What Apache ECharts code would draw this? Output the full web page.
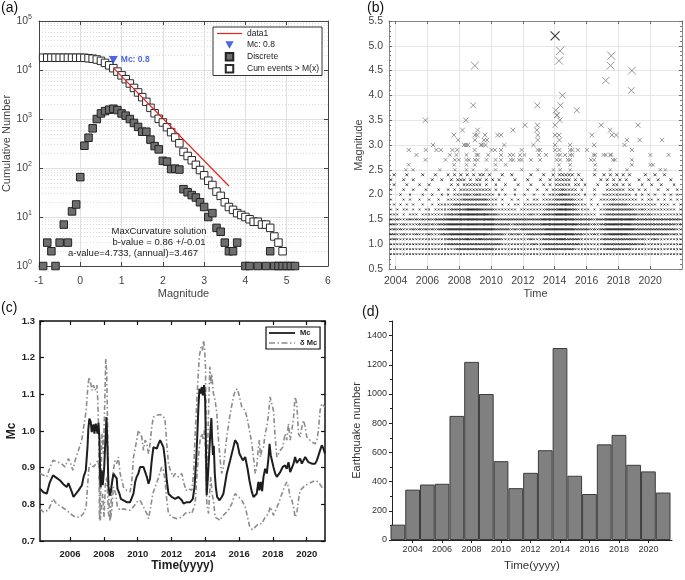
<!DOCTYPE html>
<html><head><meta charset="utf-8">
<script src="https://cdn.jsdelivr.net/npm/echarts@6/dist/echarts.min.js"></script>
<style>html,body{margin:0;padding:0;background:#fff;}#c{width:685px;height:580px;}</style>
</head><body><div id="c"></div>
<script>
// ================= Panel (a): frequency-magnitude =================
const discMag = [-0.9,-0.8,-0.7,-0.6,-0.5,-0.4,-0.3,-0.2,-0.1,0.0,0.1,0.2,0.3,0.4,0.5,0.6,0.7,0.8,0.9,1.0,1.1,1.2,1.3,1.4,1.5,1.6,1.7,1.8,1.9,2.0,2.1,2.2,2.3,2.4,2.5,2.6,2.7,2.8,2.9,3.0,3.1,3.2,3.3,3.4,3.5,3.6,3.7,3.8,4.0,4.1,4.3,4.5,4.6,4.7,4.8,4.9,5.0,5.1,5.2];
const discCount = [1,3,2,1,3,7,3,13,18,65,285,415,645,1000,1300,1450,1550,1620,1520,1300,1170,1000,830,690,550,550,380,280,240,140,135,95,97,93,37,32,28,25,20,16,10,12,6,5,3,2,2,3,1,1,1,1,2,1,1,1,1,1,1];
const cumMag = [-0.9,-0.8,-0.7,-0.6,-0.5,-0.4,-0.3,-0.2,-0.1,0.0,0.1,0.2,0.3,0.4,0.5,0.6,0.7,0.8,0.9,1.0,1.1,1.2,1.3,1.4,1.5,1.6,1.7,1.8,1.9,2.0,2.1,2.2,2.3,2.4,2.5,2.6,2.7,2.8,2.9,3.0,3.1,3.2,3.3,3.4,3.5,3.6,3.7,3.8,3.9,4.0,4.1,4.2,4.3,4.4,4.5,4.6,4.7,4.8,4.9];
const cumCount = [17830,17830,17825,17825,17820,17815,17810,17800,17790,17770,17710,17420,17000,16360,15360,13960,12460,10890,9270,7770,6480,5310,4310,3480,2790,2240,1690,1310,1010,850,680,540,420,320,213,176,144,116,91,71,55,45,33,27,20,16,14,12,11,10,9,8,8,7,7,6,4,3,2];
const fitMag = [0.8, 3.6];
const fitCount = [11090, 43];
const mcPoint = [0.8, 16000];
const aNotes = ['MaxCurvature solution', 'b-value = 0.86 +/-0.01', 'a-value=4.733, (annual)=3.467'];

// ================= Panel (b): magnitude vs time =================
const rowStart = 2003.6, rowBin = 0.2;   // bins of 0.2 yr; digit = visual count of events in bin
const rowMags = [0.8,0.9,1.0,1.1,1.2,1.3,1.4,1.5,1.6,1.7,1.8,1.9,2.0,2.1,2.2,2.3,2.4];
const rowDensity = [
 "11 11111 11111 11111 11111 11111 11111 11111 11111 11111 11111 11111 11111 11111 11111 11111 11111 11111 11111",
 "11 11111 11111 11111 11112 22222 22222 21111 11111 11111 11222 22222 21111 11111 12222 22221 11111 11111 11111",
 "11 11111 11111 11111 12222 22222 22222 22211 11111 11121 12222 22222 22211 11111 22222 22222 21211 11111 11111",
 "12 11111 11111 11111 12222 22322 23222 22211 11111 11211 12222 23322 22211 11111 22222 22222 21211 12111 11111",
 "22 11211 12111 21112 22333 33333 33332 22221 12121 12222 22333 33333 32221 11211 22333 33322 22222 22222 21211",
 "12 12111 21212 12122 23333 33333 33333 32222 21212 22222 22333 33333 32222 21212 23333 33333 22222 22222 22211",
 "22 11211 11212 12122 23333 33333 33333 32222 21222 22222 23333 33333 33222 21212 23333 33332 22222 22222 22212",
 "21 21112 12121 21222 23333 33333 33333 32222 22222 22222 23333 33333 32222 22122 23333 33333 22222 22222 22221",
 "11 10101 11011 11111 12222 33333 33332 22111 11111 11211 12222 33333 22211 11101 12222 22222 21212 11111 11111",
 "10 10110 10101 10111 11222 22333 33222 21111 11101 11111 11222 23333 22111 10101 12222 22222 11211 11111 11101",
 "01 01010 10010 01011 11122 22222 22221 11010 10110 11111 11122 22333 22111 01010 11222 22211 11111 11011 10101",
 "10 00101 00100 10010 01111 12222 22221 11010 01010 01011 01111 22222 21110 01001 11121 11111 10101 10101 01010",
 "00 01001 00010 01001 01011 11211 21111 10101 00100 10010 01011 12221 11101 00100 11111 11110 10101 01001 01010",
 "10 00100 10001 00010 01010 11111 11111 01010 00100 01001 00101 11211 11010 00100 01111 11011 01010 00100 10010",
 "01 00010 00100 10000 00101 01111 11010 01001 00010 00100 01010 11111 01101 00010 01011 01010 00100 10010 00100",
 "10 00100 10000 01001 00101 11010 11010 10100 00100 01000 10010 11111 01010 00001 01010 10100 01001 00100 01000",
 "01 00010 00010 00100 01010 10101 01101 00010 01000 00100 01001 01111 10100 00100 10101 01010 00010 01001 00000"
];
const evYear = [2014.34,2014.27,2008.98,2017.55,2017.51,2017.21,2018.85,2018.81,2014.48,
 2008.87,2012.91,2014.36,2014.06,2015.39,2014.13,2014.15,2005.87,2008.41,2014.32,
 2012.13,2012.91,2014.02,2016.92,2019.23,2008.20,2009.15,2011.37,2012.87,2017.49,
 2007.66,2008.98,2009.13,2009.61,2010.41,2010.62,2012.93,2014.02,2014.27,2016.33,2017.59,2017.87,
 2007.93,2008.98,2009.55,2009.74,2012.93,2014.29,2018.54,2019.34,2020.74,
 2006.35,2008.29,2008.41,2008.54,2009.36,2009.46,2009.65,2010.83,2012.66,2014.02,2014.97,2016.48,2018.39,
 2004.82,2005.89,2006.56,2006.84,2007.57,2007.87,2008.96,2010.03,2010.24,2010.62,2011.92,2012.93,2013.08,2014.02,2014.29,2014.97,2015.11,2015.45,2016.02,2018.85,
 2005.30,2007.40,2007.82,2008.45,2009.08,2009.19,2009.82,2010.62,2011.18,2011.39,2011.82,2012.09,2013.01,2013.45,2014.17,2014.34,2014.65,2014.97,2015.11,2016.44,2016.54,2017.07,2017.21,2017.49,2017.55,2020.01,2021.16,
 2005.87,2007.13,2007.72,2007.97,2008.45,2008.60,2008.98,2009.15,2009.71,2010.28,2010.62,2011.23,2011.39,2011.77,2011.92,2012.51,2013.08,2014.13,2014.34,2014.82,2014.97,2016.27,2016.48,2017.66,2017.80,2018.85,
 2004.82,2007.68,2008.45,2008.98,2010.28,2010.91,2014.27,2014.97,2016.54,2018.85,2020.01,2020.18,
 2004.63,2005.09,2006.77,2007.72,2008.45,2008.87,2009.71,2010.28,2011.92,2012.93,2013.92,2014.34,2014.97,2016.54,2017.49,2018.54,2020.64,2020.95];
const evMag = [4.9,4.7,4.6,4.8,4.6,4.3,4.5,4.1,4.0,
 3.8,3.8,3.8,3.7,3.7,3.6,3.6,3.5,3.5,3.5,
 3.4,3.4,3.4,3.4,3.4,3.3,3.3,3.3,3.3,3.3,
 3.2,3.2,3.2,3.2,3.2,3.2,3.2,3.2,3.2,3.2,3.2,3.2,
 3.1,3.1,3.1,3.1,3.1,3.1,3.1,3.1,3.1,
 3.0,3.0,3.0,3.0,3.0,3.0,3.0,3.0,3.0,3.0,3.0,3.0,3.0,
 2.9,2.9,2.9,2.9,2.9,2.9,2.9,2.9,2.9,2.9,2.9,2.9,2.9,2.9,2.9,2.9,2.9,2.9,2.9,2.9,
 2.8,2.8,2.8,2.8,2.8,2.8,2.8,2.8,2.8,2.8,2.8,2.8,2.8,2.8,2.8,2.8,2.8,2.8,2.8,2.8,2.8,2.8,2.8,2.8,2.8,2.8,2.8,
 2.7,2.7,2.7,2.7,2.7,2.7,2.7,2.7,2.7,2.7,2.7,2.7,2.7,2.7,2.7,2.7,2.7,2.7,2.7,2.7,2.7,2.7,2.7,2.7,2.7,2.7,
 2.6,2.6,2.6,2.6,2.6,2.6,2.6,2.6,2.6,2.6,2.6,2.6,
 2.5,2.5,2.5,2.5,2.5,2.5,2.5,2.5,2.5,2.5,2.5,2.5,2.5,2.5,2.5,2.5,2.5,2.5];
const maxEvent = [2014.02, 5.2];

// ================= Panel (c): Mc through time =================
const mcT = [2004.22,2004.42,2004.62,2004.80,2004.99,2005.20,2005.41,2005.60,2005.80,2005.90,2006.10,2006.20,2006.50,2006.70,2006.80,2006.93,2007.03,2007.08,2007.14,2007.22,2007.28,2007.38,2007.44,2007.52,2007.62,2007.68,2007.74,2007.78,2007.81,2007.87,2007.93,2008.01,2008.07,2008.13,2008.15,2008.21,2008.27,2008.37,2008.47,2008.56,2008.66,2008.76,2008.80,2008.92,2009.00,2009.16,2009.35,2009.55,2009.65,2009.75,2009.85,2009.94,2010.04,2010.14,2010.24,2010.34,2010.44,2010.54,2010.64,2010.73,2010.83,2010.93,2011.03,2011.13,2011.23,2011.33,2011.42,2011.52,2011.62,2011.72,2011.82,2012.02,2012.21,2012.41,2012.61,2012.71,2012.90,2013.10,2013.26,2013.36,2013.46,2013.53,2013.59,2013.65,2013.73,2013.79,2013.85,2013.93,2013.99,2014.03,2014.08,2014.14,2014.22,2014.30,2014.36,2014.40,2014.45,2014.50,2014.56,2014.62,2014.70,2014.84,2014.97,2015.07,2015.27,2015.47,2015.66,2015.76,2015.90,2016.02,2016.10,2016.22,2016.36,2016.50,2016.61,2016.75,2016.85,2016.95,2017.04,2017.14,2017.20,2017.28,2017.36,2017.44,2017.54,2017.64,2017.74,2017.80,2017.87,2017.93,2018.03,2018.13,2018.23,2018.43,2018.58,2018.72,2018.82,2018.92,2019.02,2019.12,2019.22,2019.31,2019.41,2019.51,2019.61,2019.71,2019.81,2019.91,2020.00,2020.10,2020.30,2020.50,2020.60,2020.69,2020.79,2020.89,2020.99,2021.08];
const mcV = [0.843,0.833,0.829,0.860,0.879,0.872,0.865,0.855,0.847,0.858,0.834,0.820,0.838,0.852,0.875,0.893,0.956,1.006,1.034,1.025,0.997,1.018,0.993,1.020,0.993,1.022,0.975,0.875,0.847,0.893,0.852,0.893,0.956,1.011,1.038,0.956,0.847,0.824,0.856,0.884,0.884,0.870,0.843,0.829,0.815,0.811,0.806,0.806,0.811,0.829,0.861,0.875,0.884,0.902,0.897,0.902,0.897,0.875,0.856,0.870,0.920,0.956,0.961,0.952,0.965,0.975,0.970,0.956,0.920,0.865,0.829,0.820,0.815,0.820,0.811,0.802,0.806,0.806,0.815,0.847,0.920,0.993,1.065,1.115,1.102,1.120,1.097,1.125,1.083,0.975,0.825,0.865,0.930,1.000,1.035,0.980,0.935,0.960,0.884,0.847,0.820,0.811,0.820,0.829,0.884,0.920,0.956,0.975,0.965,0.938,0.943,0.920,0.929,0.897,0.865,0.834,0.820,0.815,0.829,0.861,0.838,0.861,0.836,0.875,0.897,0.884,0.929,0.965,0.934,0.929,0.902,0.884,0.875,0.888,0.902,0.906,0.897,0.915,0.888,0.893,0.911,0.929,0.913,0.911,0.925,0.911,0.920,0.929,0.927,0.915,0.911,0.911,0.920,0.920,0.947,0.961,0.952,0.938];
const upT = [2004.22,2004.62,2004.82,2004.99,2005.29,2005.49,2005.70,2005.90,2006.04,2006.16,2006.30,2006.49,2006.69,2006.79,2006.95,2007.05,2007.12,2007.22,2007.30,2007.38,2007.48,2007.58,2007.64,2007.70,2007.74,2007.81,2007.89,2007.97,2008.03,2008.11,2008.17,2008.23,2008.29,2008.37,2008.47,2008.56,2008.66,2008.76,2008.86,2008.96,2009.16,2009.35,2009.55,2009.65,2009.75,2009.85,2009.94,2010.04,2010.14,2010.24,2010.34,2010.44,2010.54,2010.64,2010.73,2010.83,2010.93,2011.13,2011.33,2011.52,2011.62,2011.72,2011.82,2011.92,2012.11,2012.21,2012.41,2012.61,2012.71,2012.86,2013.00,2013.20,2013.30,2013.40,2013.50,2013.57,2013.65,2013.75,2013.83,2013.89,2013.95,2014.01,2014.05,2014.09,2014.15,2014.22,2014.27,2014.33,2014.38,2014.48,2014.58,2014.68,2014.78,2014.88,2014.97,2015.07,2015.27,2015.47,2015.66,2015.78,2015.90,2016.02,2016.16,2016.36,2016.50,2016.65,2016.75,2016.85,2016.95,2017.04,2017.14,2017.20,2017.26,2017.34,2017.44,2017.54,2017.64,2017.74,2017.83,2017.93,2018.03,2018.13,2018.23,2018.43,2018.58,2018.72,2018.82,2018.92,2019.02,2019.12,2019.22,2019.31,2019.41,2019.51,2019.61,2019.71,2019.81,2019.91,2020.00,2020.10,2020.30,2020.50,2020.60,2020.69,2020.79,2020.89,2021.08];
const upV = [0.884,0.875,0.902,0.920,0.915,0.911,0.902,0.925,0.911,0.893,0.920,0.947,0.975,1.006,1.056,1.120,1.147,1.129,1.111,1.125,1.111,1.125,1.084,0.975,0.756,0.829,0.993,0.938,1.038,1.197,1.156,0.975,0.811,0.756,0.847,0.893,0.920,0.911,0.929,0.884,0.847,0.838,0.834,0.861,0.929,0.952,0.975,1.002,0.993,0.984,0.947,0.975,0.965,0.938,0.965,1.011,1.038,1.043,1.045,1.040,1.029,0.965,0.911,0.893,0.875,0.884,0.875,0.884,0.861,0.838,0.843,0.838,0.884,0.993,1.084,1.147,1.206,1.229,1.220,1.247,1.229,1.175,0.975,0.847,0.975,1.102,1.175,1.129,1.156,1.102,1.084,1.047,0.975,0.920,0.884,0.902,0.984,1.047,1.093,1.111,1.115,1.093,1.065,1.056,1.029,0.993,0.965,0.929,0.884,0.902,0.956,0.975,0.929,0.947,0.956,0.993,1.011,1.047,1.093,1.088,1.056,0.984,0.929,0.947,0.956,0.993,0.975,1.020,0.975,1.002,1.038,1.093,1.075,0.993,0.984,1.011,1.029,1.011,0.984,0.979,0.970,0.965,0.975,1.002,1.056,1.075,1.065];
const loT = [2004.22,2004.42,2004.72,2004.99,2005.19,2005.49,2005.80,2006.00,2006.30,2006.59,2006.79,2006.95,2007.03,2007.12,2007.22,2007.38,2007.54,2007.64,2007.72,2007.78,2007.85,2007.93,2008.01,2008.09,2008.17,2008.27,2008.37,2008.47,2008.56,2008.70,2008.80,2008.96,2009.16,2009.35,2009.55,2009.75,2009.94,2010.14,2010.34,2010.54,2010.64,2010.77,2010.89,2011.03,2011.17,2011.33,2011.42,2011.52,2011.62,2011.72,2011.82,2012.02,2012.31,2012.61,2012.80,2013.00,2013.20,2013.30,2013.40,2013.50,2013.59,2013.69,2013.79,2013.89,2013.97,2014.03,2014.09,2014.19,2014.24,2014.32,2014.40,2014.48,2014.58,2014.72,2014.88,2014.97,2015.17,2015.37,2015.57,2015.76,2015.86,2015.98,2016.16,2016.36,2016.50,2016.62,2016.78,2016.95,2017.14,2017.34,2017.44,2017.54,2017.64,2017.74,2017.83,2017.93,2018.03,2018.13,2018.33,2018.53,2018.72,2018.82,2018.92,2019.02,2019.12,2019.22,2019.31,2019.41,2019.51,2019.61,2019.71,2019.91,2020.10,2020.30,2020.50,2020.60,2020.69,2020.89,2021.08];
const loV = [0.788,0.779,0.784,0.815,0.802,0.793,0.784,0.775,0.765,0.765,0.775,0.793,0.847,0.902,0.911,0.902,0.911,0.920,0.902,0.756,0.784,0.829,0.765,0.856,0.875,0.775,0.756,0.784,0.847,0.829,0.793,0.784,0.788,0.785,0.784,0.793,0.806,0.811,0.793,0.775,0.761,0.793,0.829,0.847,0.865,0.888,0.902,0.893,0.865,0.811,0.775,0.765,0.761,0.765,0.775,0.779,0.775,0.770,0.802,0.875,0.929,0.975,0.993,0.975,1.011,0.902,0.802,0.775,0.820,0.875,0.829,0.811,0.765,0.761,0.756,0.765,0.775,0.784,0.802,0.829,0.834,0.820,0.811,0.793,0.765,0.740,0.731,0.738,0.747,0.747,0.756,0.765,0.761,0.775,0.793,0.784,0.770,0.775,0.802,0.829,0.852,0.861,0.847,0.820,0.811,0.793,0.765,0.775,0.811,0.838,0.843,0.852,0.856,0.861,0.865,0.870,0.861,0.847,0.843];

// ================= Panel (d): yearly counts =================
const years = [2003,2004,2005,2006,2007,2008,2009,2010,2011,2012,2013,2014,2015,2016,2017,2018,2019,2020,2021];
const counts = [105,345,380,385,850,1220,1000,540,355,460,615,1315,440,315,655,720,515,470,325];

// ================= build =================
const FONT = '"Liberation Sans", Arial, Helvetica, sans-serif';
const XPATH = 'path://M0,0L10,10M10,0L0,10';
const TRI_DOWN = 'path://M0,0L10,0L5,9Z';
const SQUARE = 'path://M0,0H10V10H0Z';
const ICON_LINE = 'path://M0,4.4H25V5.6H0Z';
const ICON_DASHDOT = 'path://M0,0H6V1.3H0Z M8.5,0H10V1.3H8.5Z M12.5,0H18.5V1.3H12.5Z M21,0H22.5V1.3H21Z M25,0H26V1.3H25Z';
const ICON_SOLID = 'path://M0,0H26V1.8H0Z';
const zip = (a, b) => a.map((v, i) => [v, b[i]]);

const rowPts = [];
rowDensity.forEach((s, r) => {
  const str = s.replace(/\s+/g, '');
  for (let i = 0; i < str.length; i++) {
    const n = +str[i];
    for (let k = 0; k < n; k++) rowPts.push([rowStart + rowBin * i + rowBin * (k + 0.5) / n, rowMags[r]]);
  }
});
const xSize = m => Math.max(1.8, 2.17 * m - 2.3);

const minorLog = [];
for (let e = 0; e < 5; e++) for (let k = 2; k <= 9; k++) minorLog.push(k * Math.pow(10, e));

const chart = echarts.init(document.getElementById('c'), null, {renderer: 'canvas'});

const hide = {show: false};
function mirror(base, pos, extra) {
  return Object.assign({}, base, {position: pos, axisLabel: hide, splitLine: hide, name: '', minorSplitLine: hide}, extra || {});
}

const aX = {gridIndex: 0, type: 'value', min: -1, max: 6, interval: 1,
  axisLine: {show: true, onZero: false, lineStyle: {color: '#444', width: 1}},
  axisTick: {show: true, inside: true, length: 4, lineStyle: {color: '#444'}},
  axisLabel: {color: '#444', fontSize: 10.5, fontFamily: FONT, margin: 10},
  splitLine: {show: true, lineStyle: {color: '#e0e0e0', width: 1}},
  name: 'Magnitude', nameLocation: 'middle', nameGap: 22,
  nameTextStyle: {color: '#444', fontSize: 11, fontFamily: FONT}};
const aY = {gridIndex: 0, type: 'log', logBase: 10, min: 1, max: 100000,
  axisLine: {show: true, onZero: false, lineStyle: {color: '#444', width: 1}},
  axisTick: {show: true, inside: true, length: 4, lineStyle: {color: '#444'}},
  axisLabel: {color: '#444', fontSize: 10.5, fontFamily: FONT, margin: 7,
    formatter: v => '10{s|' + Math.round(Math.log10(v)) + '}',
    rich: {s: {fontSize: 7, fontFamily: FONT, color: '#444', padding: [0, 0, 7, 0]}}},
  splitLine: {show: true, lineStyle: {color: '#e0e0e0', width: 1}},
  name: 'Cumulative Number', nameLocation: 'middle', nameGap: 26,
  nameTextStyle: {color: '#444', fontSize: 11, fontFamily: FONT}};

const bX = {gridIndex: 1, type: 'value', min: 2003.58, max: 2022.0, minInterval: 2, maxInterval: 2,
  axisLine: {show: true, onZero: false, lineStyle: {color: '#888', width: 1}},
  axisTick: {show: true, inside: true, length: 3, lineStyle: {color: '#666'}},
  axisLabel: {color: '#444', fontSize: 10.5, fontFamily: FONT, margin: 7, showMinLabel: false, showMaxLabel: false,
    formatter: v => String(Math.round(v))},
  splitLine: {show: true, lineStyle: {color: '#e6e6e6', width: 1}},
  name: 'Time', nameLocation: 'middle', nameGap: 19,
  nameTextStyle: {color: '#444', fontSize: 11, fontFamily: FONT}};
const bY = {gridIndex: 1, type: 'value', min: 0.5, max: 5.5, interval: 0.5,
  axisLine: {show: true, onZero: false, lineStyle: {color: '#888', width: 1}},
  axisTick: {show: true, inside: true, length: 3, lineStyle: {color: '#666'}},
  minorTick: {show: true, splitNumber: 5, length: 2, lineStyle: {color: '#777'}},
  axisLabel: {color: '#444', fontSize: 10.5, fontFamily: FONT, margin: 6, formatter: v => v.toFixed(1)},
  splitLine: {show: true, lineStyle: {color: '#e6e6e6', width: 1}},
  name: 'Magnitude', nameLocation: 'middle', nameGap: 23,
  nameTextStyle: {color: '#444', fontSize: 11, fontFamily: FONT}};

const cX = {gridIndex: 2, type: 'value', min: 2004.22, max: 2021.08, minInterval: 2, maxInterval: 2,
  axisLine: {show: true, onZero: false, lineStyle: {color: '#111', width: 1.5}},
  axisTick: {show: true, inside: true, length: 4, lineStyle: {color: '#111', width: 1.2}},
  axisLabel: {color: '#222', fontSize: 9.5, fontWeight: 'bold', fontFamily: FONT, margin: 8, showMinLabel: false, showMaxLabel: false,
    formatter: v => String(Math.round(v))},
  splitLine: hide,
  name: 'Time(yyyy)', nameLocation: 'middle', nameGap: 19,
  nameTextStyle: {color: '#222', fontSize: 12, fontWeight: 'bold', fontFamily: FONT}};
const cY = {gridIndex: 2, type: 'value', min: 0.7, max: 1.3, interval: 0.1,
  axisLine: {show: true, onZero: false, lineStyle: {color: '#111', width: 1.5}},
  axisTick: {show: true, inside: true, length: 4, lineStyle: {color: '#111', width: 1.2}},
  axisLabel: {color: '#222', fontSize: 9.5, fontWeight: 'bold', fontFamily: FONT, margin: 5, formatter: v => v.toFixed(1)},
  splitLine: hide,
  name: 'Mc', nameLocation: 'middle', nameGap: 22,
  nameTextStyle: {color: '#222', fontSize: 12, fontWeight: 'bold', fontFamily: FONT}};

const dX = {gridIndex: 3, type: 'value', min: 2002.6, max: 2021.6, minInterval: 2, maxInterval: 2,
  axisLine: {show: true, onZero: false, lineStyle: {color: '#222', width: 1}},
  axisTick: {show: true, inside: false, length: 3, lineStyle: {color: '#222'}},
  axisLabel: {color: '#333', fontSize: 9, fontFamily: FONT, margin: 5, showMinLabel: false, showMaxLabel: false,
    formatter: v => String(Math.round(v))},
  splitLine: hide,
  name: 'Time(yyyy)', nameLocation: 'middle', nameGap: 20,
  nameTextStyle: {color: '#333', fontSize: 11.5, fontFamily: FONT}};
const dY = {gridIndex: 3, type: 'value', min: 0, max: 1500, interval: 200,
  axisLine: {show: true, onZero: false, lineStyle: {color: '#222', width: 1}},
  axisTick: {show: true, inside: false, length: 3, lineStyle: {color: '#222'}},
  minorTick: {show: true, splitNumber: 2, length: 2, lineStyle: {color: '#222'}},
  axisLabel: {color: '#333', fontSize: 9, fontFamily: FONT, margin: 5, showMaxLabel: false,
    formatter: v => String(Math.round(v))},
  splitLine: hide,
  name: 'Earthquake number', nameLocation: 'middle', nameGap: 30,
  nameTextStyle: {color: '#333', fontSize: 11, fontFamily: FONT}};

const option = {
  animation: false,
  backgroundColor: '#fff',
  textStyle: {fontFamily: FONT},
  grid: [
    {left: 39, top: 21, width: 289, height: 245},
    {left: 389, top: 21, width: 293, height: 248},
    {left: 40, top: 321, width: 285, height: 220},
    {left: 392, top: 321, width: 280, height: 219}
  ],
  xAxis: [aX, mirror(aX, 'top'), bX, mirror(bX, 'top'), cX, mirror(cX, 'top'), dX],
  yAxis: [aY, mirror(aY, 'right'), bY, mirror(bY, 'right'), cY, mirror(cY, 'right'), dY],
  legend: [
    {data: [{name: 'data1', icon: ICON_LINE}, {name: 'Mc: 0.8', icon: TRI_DOWN},
            {name: 'Discrete', icon: SQUARE}, {name: 'Cum events > M(x)', icon: SQUARE}],
     orient: 'vertical', left: 213, top: 27, z: 10,
     itemWidth: 25, itemHeight: 7.5, itemGap: 2.5, padding: [2, 3, 2, 4], borderColor: '#333', borderWidth: 1,
     backgroundColor: '#fff', textStyle: {fontSize: 8.5, color: '#222', fontFamily: FONT},
     selectedMode: false},
    {data: [{name: 'Mc', icon: ICON_SOLID}, {name: 'δ Mc', icon: ICON_DASHDOT}], orient: 'vertical', left: 266, top: 327, z: 10,
     itemWidth: 26, itemHeight: 7, itemGap: 2, padding: [2, 3, 2, 3], borderColor: '#111', borderWidth: 1.2,
     backgroundColor: '#fff', textStyle: {fontSize: 7.5, fontWeight: 'bold', color: '#222', fontFamily: FONT},
     selectedMode: false}
  ],
  graphic: [
    {type: 'text', x: 1, y: 1, style: {text: '(a)', fontSize: 14, fontFamily: FONT, fill: '#111'}},
    {type: 'text', x: 367, y: 1, style: {text: '(b)', fontSize: 14, fontFamily: FONT, fill: '#111'}},
    {type: 'text', x: 1, y: 301, style: {text: '(c)', fontSize: 14, fontFamily: FONT, fill: '#111'}},
    {type: 'text', x: 362, y: 305, style: {text: '(d)', fontSize: 14, fontFamily: FONT, fill: '#111'}},
    {type: 'text', x: 159, y: 231, z: 20, style: {text: aNotes[0], fontSize: 9.5, fontFamily: FONT, fill: '#222', align: 'center', verticalAlign: 'middle', textAlign: 'center', textVerticalAlign: 'middle'}},
    {type: 'text', x: 159, y: 242, z: 20, style: {text: aNotes[1], fontSize: 9.5, fontFamily: FONT, fill: '#222', align: 'center', verticalAlign: 'middle', textAlign: 'center', textVerticalAlign: 'middle'}},
    {type: 'text', x: 133, y: 253, z: 20, style: {text: aNotes[2], fontSize: 9.5, fontFamily: FONT, fill: '#222', align: 'center', verticalAlign: 'middle', textAlign: 'center', textVerticalAlign: 'middle'}}
  ],
  series: [
    // (a)
    {type: 'line', name: 'minor', xAxisIndex: 0, yAxisIndex: 0, data: [], silent: true, z: 0,
     markLine: {silent: true, z: 0, zlevel: 0, symbol: 'none', label: hide, animation: false,
       lineStyle: {color: '#dedede', type: [1, 2], width: 1},
       emphasis: {disabled: true},
       data: minorLog.map(v => ({yAxis: v}))}},
    {type: 'scatter', name: 'Cum events > M(x)', xAxisIndex: 0, yAxisIndex: 0, data: zip(cumMag, cumCount),
     symbol: 'rect', symbolSize: 7.5, itemStyle: {color: '#fff', borderColor: '#2a2a2a', borderWidth: 1, opacity: 1}, z: 3},
    {type: 'scatter', name: 'Discrete', xAxisIndex: 0, yAxisIndex: 0, data: zip(discMag, discCount),
     symbol: 'rect', symbolSize: 7.5, itemStyle: {color: '#6e6e6e', borderColor: '#222', borderWidth: 1, opacity: 1}, z: 3},
    {type: 'line', name: 'data1', xAxisIndex: 0, yAxisIndex: 0, data: zip(fitMag, fitCount),
     symbol: 'none', lineStyle: {color: '#e8201c', width: 1.2}, itemStyle: {color: '#e8201c'}, z: 4},
    {type: 'scatter', name: 'Mc: 0.8', xAxisIndex: 0, yAxisIndex: 0, data: [mcPoint],
     symbol: TRI_DOWN, symbolSize: [9, 8], itemStyle: {color: '#1f3fe0'}, z: 5,
     label: {show: true, position: 'right', distance: 3, formatter: 'Mc: 0.8', color: '#1f3fe0', fontSize: 8.5, fontWeight: 'bold', fontFamily: FONT}},
    // (b)
    {type: 'scatter', name: 'rows', xAxisIndex: 2, yAxisIndex: 2, data: rowPts, symbol: XPATH,
     symbolSize: d => xSize(d[1]), itemStyle: {color: 'none', borderColor: '#1a1a1a', borderWidth: 0.9, opacity: 0.85}, z: 2},
    {type: 'scatter', name: 'events', xAxisIndex: 2, yAxisIndex: 2, data: zip(evYear, evMag), symbol: XPATH,
     symbolSize: d => xSize(d[1]), itemStyle: {color: 'none', borderColor: '#7a7a7a', borderWidth: 1}, z: 3},
    {type: 'scatter', name: 'largest', xAxisIndex: 2, yAxisIndex: 2, data: [maxEvent], symbol: XPATH,
     symbolSize: d => xSize(d[1]), itemStyle: {color: 'none', borderColor: '#111', borderWidth: 1.2}, z: 4},
    // (c)
    {type: 'line', name: 'δ Mc', xAxisIndex: 4, yAxisIndex: 4, data: zip(upT, upV), symbol: 'none',
     lineStyle: {color: '#8c8c8c', width: 1.6, type: [5, 2.5, 1.5, 2.5]}, itemStyle: {color: '#8c8c8c'}, z: 2},
    {type: 'line', name: 'δ Mc', xAxisIndex: 4, yAxisIndex: 4, data: zip(loT, loV), symbol: 'none',
     lineStyle: {color: '#8c8c8c', width: 1.6, type: [5, 2.5, 1.5, 2.5]}, itemStyle: {color: '#8c8c8c'}, z: 2},
    {type: 'line', name: 'Mc', xAxisIndex: 4, yAxisIndex: 4, data: zip(mcT, mcV), symbol: 'none',
     lineStyle: {color: '#1e1e1e', width: 2}, itemStyle: {color: '#1e1e1e'}, z: 3},
    // (d)
    {type: 'bar', name: 'count', xAxisIndex: 6, yAxisIndex: 6, data: zip(years, counts), barWidth: '100%',
     itemStyle: {color: '#808080', borderColor: '#3c3c3c', borderWidth: 1}}
  ]
};
chart.setOption(option);
</script>
</body></html>
